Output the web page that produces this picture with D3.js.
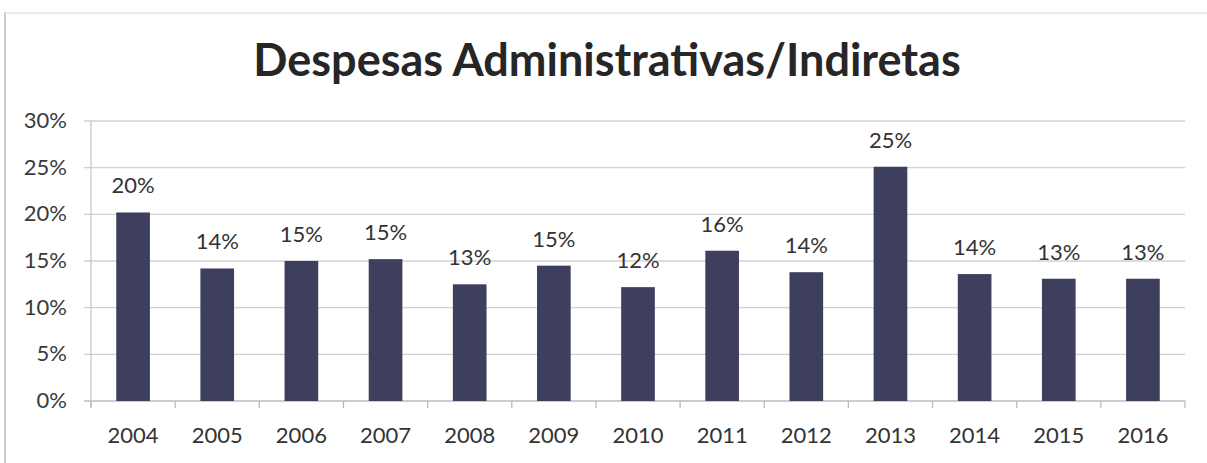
<!DOCTYPE html>
<html>
<head>
<meta charset="utf-8">
<script src="https://cdn.jsdelivr.net/npm/d3@7"></script>
<style>
  body { margin: 0; background: #fff; }
  text { font-family: Lato, "Open Sans", sans-serif; }
</style>
</head>
<body>
<script>
// chart data
const years = ['2004', '2005', '2006', '2007', '2008', '2009', '2010', '2011', '2012', '2013', '2014', '2015', '2016'];
const values = [0.202, 0.142, 0.150, 0.152, 0.125, 0.145, 0.122, 0.161, 0.138, 0.251, 0.136, 0.131, 0.131];
const labels = ['20%', '14%', '15%', '15%', '13%', '15%', '12%', '16%', '14%', '25%', '14%', '13%', '13%'];
const yTicks = [0, 0.05, 0.10, 0.15, 0.20, 0.25, 0.30];

const width = 1207, height = 463;

const svg = d3.select('body').append('svg')
    .attr('width', width)
    .attr('height', height);

// scanned page frame
svg.append('line')
    .attr('x1', 5).attr('x2', 5).attr('y1', 12).attr('y2', height)
    .attr('stroke', '#ccc').attr('stroke-width', 2);
svg.append('line')
    .attr('x1', 5).attr('x2', 1207).attr('y1', 13).attr('y2', 13)
    .attr('stroke', '#e4e4e4').attr('stroke-width', 1.5);

const x = d3.scaleBand()
    .domain(years)
    .range([91, 1185])
    .paddingInner(0.6)
    .paddingOuter(0.3);

const y = d3.scaleLinear()
    .domain([0, 0.30])
    .range([401, 121]);

// gridlines
svg.append('g')
  .selectAll('line')
  .data(yTicks)
  .enter()
  .append('line')
    .attr('x1', 84)
    .attr('x2', 1185)
    .attr('y1', d => y(d))
    .attr('y2', d => y(d))
    .attr('stroke', d => d === 0 ? '#bbb' : '#d0d0d0')
    .attr('stroke-width', 1.3);

// y axis labels
svg.append('g')
  .selectAll('text')
  .data(yTicks)
  .enter()
  .append('text')
    .attr('x', 67)
    .attr('y', d => y(d) + 7)
    .attr('text-anchor', 'end')
    .attr('font-size', 22)
    .attr('fill', '#3a3a3a')
    .text(d => d3.format('.0%')(d));

// left axis line
svg.append('line')
    .attr('x1', 91).attr('x2', 91)
    .attr('y1', y(0.30)).attr('y2', y(0) + 6)
    .attr('stroke', '#c8c8c8').attr('stroke-width', 1.3);

// x ticks between categories
svg.append('g')
  .selectAll('line')
  .data(d3.range(years.length + 1))
  .enter()
  .append('line')
    .attr('x1', i => 91 + i * (1185 - 91) / years.length)
    .attr('x2', i => 91 + i * (1185 - 91) / years.length)
    .attr('y1', y(0))
    .attr('y2', y(0) + 7)
    .attr('stroke', '#bbb')
    .attr('stroke-width', 1.3);

// bars
svg.append('g')
  .selectAll('rect')
  .data(values)
  .enter()
  .append('rect')
    .attr('x', (d, i) => x(years[i]))
    .attr('width', x.bandwidth())
    .attr('y', d => y(d))
    .attr('height', d => y(0) - y(d))
    .attr('fill', '#3d3f5d');

// value labels
svg.append('g')
  .selectAll('text')
  .data(values)
  .enter()
  .append('text')
    .attr('x', (d, i) => x(years[i]) + x.bandwidth() / 2)
    .attr('y', d => y(d) - 19)
    .attr('text-anchor', 'middle')
    .attr('font-size', 22)
    .attr('fill', '#333')
    .text((d, i) => labels[i]);

// category labels
svg.append('g')
  .selectAll('text')
  .data(years)
  .enter()
  .append('text')
    .attr('x', d => x(d) + x.bandwidth() / 2)
    .attr('y', 443)
    .attr('text-anchor', 'middle')
    .attr('font-size', 22)
    .attr('fill', '#333')
    .text(d => d);

// title
svg.append('text')
    .attr('x', 607)
    .attr('y', 76)
    .attr('text-anchor', 'middle')
    .attr('font-size', 45)
    .attr('font-weight', 'bold')
    .attr('fill', '#262626')
    .text('Despesas Administrativas/Indiretas');
</script>
</body>
</html>
